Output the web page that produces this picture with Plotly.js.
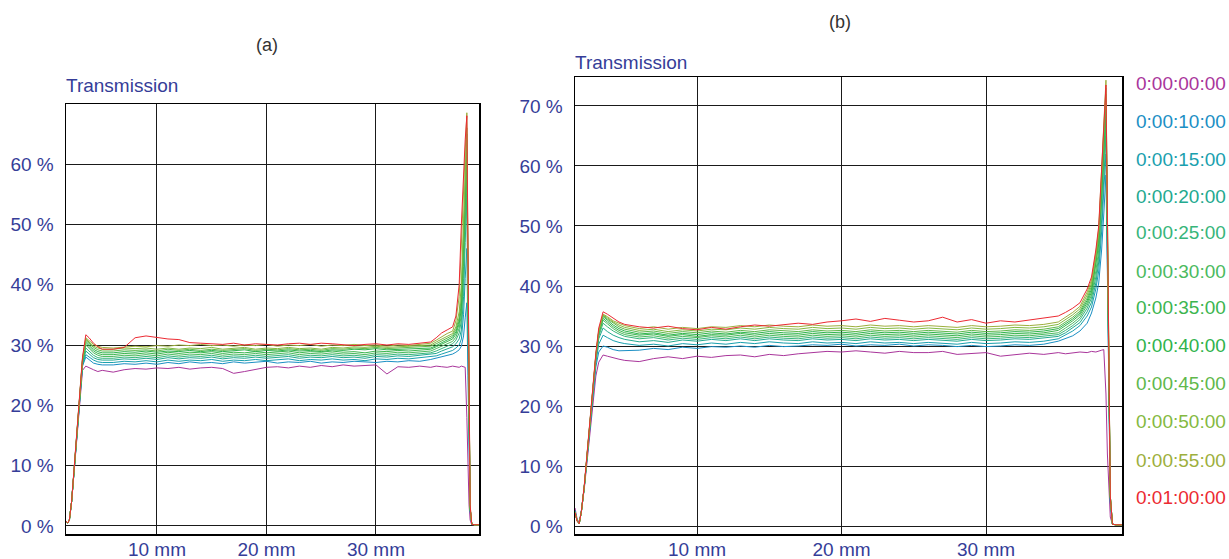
<!DOCTYPE html>
<html>
<head>
<meta charset="utf-8">
<script src="https://cdn.plot.ly/plotly-3.0.1.min.js"></script>
<style>html,body{margin:0;padding:0;background:#fff;}#chart{width:1229px;height:559px;}</style>
</head>
<body>
<div id="chart"></div>
<script>
// Position along the sample (mm)
const positionMm = [1.56,1.7,1.85,2.0,2.2,2.4,2.6,2.8,3.0,3.2,3.5,3.8,4.2,4.6,5,
  6,7,8,9,10,11,12,13,14,15,16,17,18,19,20,21,22,23,24,25,26,27,28,29,30,31,32,33,34,
  35,35.5,36,36.5,37,37.3,37.6,37.8,38.0,38.15,38.3,38.4,38.5,38.6,38.75,39.0,39.4];

const seriesNames = ['0:00:00:00','0:00:10:00','0:00:15:00','0:00:20:00','0:00:25:00','0:00:30:00',
  '0:00:35:00','0:00:40:00','0:00:45:00','0:00:50:00','0:00:55:00','0:01:00:00'];
const seriesColors = ['#a9359b','#1b8fc4','#19a0ae','#23a98f','#37b57a','#4bba5e',
  '#3cb54f','#2fb34c','#5fb84b','#84b941','#9daf3d','#ec2a32'];

const yTickVals = [0,10,20,30,40,50,60,70];
const yTickText = ['0 %','10 %','20 %','30 %','40 %','50 %','60 %','70 %'];
const xTickVals = [10,20,30];
const xTickText = ['10 mm','20 mm','30 mm'];

// ---- Panel (a): transmission (%) ----
const a00 = [1.0,0.7,0.5,1.0,4.0,8.3,12.8,17.5,22.0,25.8,26.5,26.2,25.9,25.6,25.8,
  25.5,25.9,26.1,26.0,26.2,26.1,26.3,26.0,26.2,26.3,26.1,25.3,25.6,26.0,26.3,26.4,26.2,26.5,26.3,26.6,26.4,26.7,26.5,26.6,26.7,25.2,26.4,26.3,26.5,
  26.3,26.5,26.4,26.3,26.5,26.4,26.3,26.5,26.4,26.3,18.0,9.0,3.5,1.0,0.2,0.2,0.2];
const a10 = [1.0,0.7,0.5,1.0,4.0,8.4,13.0,18.0,22.5,26.5,28.0,27.6,27.0,26.8,26.7,
  26.7,26.9,26.8,27.0,26.8,27.1,26.9,27.2,27.0,27.1,26.9,27.2,27.0,27.1,27.3,27.0,27.2,27.1,27.3,27.0,27.2,27.1,27.3,27.2,27.1,27.3,27.2,27.4,27.3,
  27.6,27.8,28.0,28.2,28.5,28.8,29.2,29.8,31.5,34.5,37.0,25.0,9.0,2.5,0.3,0.2,0.2];
const a15 = [1.0,0.7,0.5,1.0,4.0,8.4,13.0,18.0,22.6,26.7,28.4,28.0,27.5,27.2,27.1,
  27.1,27.3,27.2,27.4,27.2,27.5,27.3,27.5,27.4,27.6,27.3,27.5,27.4,27.6,27.4,27.5,27.7,27.4,27.6,27.5,27.7,27.5,27.6,27.4,27.7,27.6,27.8,27.7,27.9,
  28.0,28.2,28.5,28.8,29.1,29.5,30.0,31.0,35.0,41.0,46.0,30.0,11.0,2.5,0.3,0.2,0.2];
const a20 = [1.0,0.7,0.5,1.0,4.0,8.4,13.0,18.1,22.7,26.9,29.0,28.5,27.9,27.6,27.5,
  27.5,27.7,27.6,27.8,27.6,27.9,27.7,27.9,27.8,28.0,27.7,27.9,27.8,28.0,27.8,27.9,28.1,27.8,28.0,27.9,28.1,27.9,28.0,27.8,28.1,28.0,28.2,28.1,28.3,
  28.4,28.6,29.0,29.3,29.7,30.2,31.0,32.5,38.0,47.0,55.0,35.0,12.0,3.0,0.3,0.2,0.2];
const a25 = [1.0,0.7,0.5,1.0,4.0,8.5,13.1,18.2,22.8,27.0,29.5,29.0,28.3,27.9,27.8,
  27.8,28.0,27.9,28.1,27.9,28.2,28.0,28.2,28.1,28.3,28.0,28.2,28.1,28.3,28.1,28.2,28.4,28.1,28.3,28.2,28.4,28.2,28.3,28.1,28.4,28.3,28.5,28.4,28.6,
  28.7,29.0,29.4,29.8,30.2,30.8,32.0,34.0,41.0,50.0,58.0,37.0,13.0,3.0,0.3,0.2,0.2];
const a30 = [1.0,0.7,0.5,1.0,4.0,8.5,13.1,18.2,22.9,27.2,30.0,29.5,28.7,28.3,28.1,
  28.1,28.3,28.2,28.4,28.2,28.5,28.3,28.5,28.4,28.6,28.3,28.5,28.4,28.6,28.4,28.5,28.7,28.4,28.6,28.5,28.7,28.5,28.6,28.4,28.7,28.6,28.8,28.7,28.9,
  29.0,29.4,29.8,30.2,30.6,31.3,32.8,35.0,43.0,52.0,60.0,38.0,13.0,3.0,0.3,0.2,0.2];
const a35 = [1.0,0.7,0.5,1.0,4.0,8.5,13.2,18.3,23.0,27.4,30.3,29.8,29.0,28.6,28.4,
  28.4,28.6,28.5,28.7,28.5,28.8,28.6,28.8,28.7,28.9,28.6,28.8,28.7,28.9,28.7,28.8,29.0,28.7,28.9,28.8,29.0,28.8,28.9,28.7,29.0,28.9,29.1,29.0,29.2,
  29.3,29.7,30.1,30.6,31.0,31.8,33.5,36.0,45.0,54.0,62.0,40.0,14.0,3.0,0.3,0.2,0.2];
const a40 = [1.0,0.7,0.5,1.0,4.0,8.6,13.2,18.3,23.1,27.5,30.6,30.1,29.3,28.9,28.7,
  28.7,28.9,28.8,29.0,28.8,29.0,28.9,29.1,28.9,29.1,28.9,29.0,29.2,28.9,29.1,29.0,29.2,29.0,29.1,28.9,29.2,29.1,29.3,29.2,29.4,29.2,29.3,29.4,29.5,
  29.5,29.9,30.4,30.9,31.3,32.2,34.0,37.0,47.0,56.0,64.0,41.0,14.0,3.0,0.3,0.2,0.2];
const a45 = [1.0,0.7,0.5,1.0,4.0,8.6,13.3,18.4,23.2,27.6,30.8,30.3,29.6,29.2,29.0,
  29.0,29.2,29.1,29.2,29.0,29.3,29.1,29.3,29.1,29.3,29.1,29.2,29.4,29.1,29.3,29.2,29.4,29.2,29.3,29.1,29.4,29.3,29.5,29.4,29.6,29.4,29.5,29.6,29.7,
  29.8,30.2,30.7,31.2,31.6,32.6,34.5,38.0,49.0,57.0,65.0,42.0,15.0,3.0,0.3,0.2,0.2];
const a50 = [1.0,0.7,0.5,1.0,4.0,8.6,13.3,18.4,23.2,27.7,31.0,30.5,29.8,29.5,29.3,
  29.3,29.5,29.4,29.5,29.3,29.5,29.3,29.5,29.4,29.6,29.3,29.5,29.6,29.3,29.5,29.4,29.6,29.4,29.5,29.3,29.6,29.5,29.7,29.6,29.8,29.6,29.7,29.8,29.9,
  30.0,30.5,31.0,31.5,31.9,33.0,35.5,40.0,52.0,59.0,66.0,43.0,15.0,3.0,0.3,0.2,0.2];
const a55 = [1.0,0.7,0.5,1.0,4.0,8.7,13.4,18.5,23.3,27.8,31.2,30.7,30.1,29.8,29.6,
  29.5,29.6,29.8,29.7,29.9,29.8,30.0,29.9,30.1,29.9,30.0,29.8,30.0,29.9,30.1,29.8,30.0,29.9,30.1,29.8,30.0,29.9,30.1,29.9,30.0,29.8,30.0,29.9,30.1,
  30.3,30.8,31.4,31.9,32.3,34.0,38.0,47.0,57.0,63.0,68.5,45.0,16.0,3.5,0.3,0.2,0.2];
const a60 = [1.0,0.7,0.5,1.0,4.1,8.8,13.5,18.6,23.5,28.0,31.7,31.2,30.3,29.7,29.3,
  29.3,29.6,31.2,31.5,31.2,31.0,30.9,30.4,30.3,30.2,30.1,30.3,30.0,30.2,30.1,30.0,30.2,30.3,30.1,30.3,30.2,30.1,29.9,30.1,30.2,30.0,30.2,30.1,30.3,
  30.5,31.2,32.0,32.5,33.0,34.8,40.0,50.0,59.0,64.0,68.0,44.0,16.0,3.5,0.3,0.2,0.2];

// ---- Panel (b): transmission (%) ----
const b00 = [3.0,1.2,0.6,2.6,6.2,11.0,16.5,21.0,25.0,27.3,28.5,28.3,28.0,27.8,27.6,
  27.4,27.9,28.2,27.9,28.3,28.1,28.4,28.5,28.2,28.6,28.4,28.7,28.9,29.1,29.0,29.2,29.0,28.8,29.1,28.9,28.9,29.1,28.6,28.8,28.9,28.3,28.6,28.8,28.6,
  28.9,28.7,28.9,29.0,28.9,29.1,29.0,29.2,29.3,29.4,22.0,12.0,5.0,1.5,0.3,0.2,0.2];
const b10 = [2.6,1.0,0.5,2.5,6.5,11.5,17.5,22.5,26.5,29.0,30.0,29.8,29.4,29.2,29.2,
  29.3,29.6,29.4,29.8,29.6,29.9,29.8,30.0,29.8,30.1,29.9,30.0,30.2,30.1,30.3,30.0,30.2,30.1,30.3,30.0,30.2,30.1,29.9,30.1,29.9,30.0,30.2,30.1,30.3,
  30.8,31.2,31.7,32.5,33.8,35.5,38.0,40.5,46.0,52.0,58.5,42.0,18.0,4.0,0.3,0.2,0.2];
const b15 = [2.5,0.9,0.4,2.5,6.5,11.6,17.6,23.0,27.2,30.3,31.8,31.4,30.9,30.6,30.4,
  30.1,30.3,30.0,30.4,30.2,30.5,30.3,30.6,30.4,30.7,30.5,30.4,30.7,30.5,30.6,30.4,30.7,30.5,30.6,30.4,30.6,30.5,30.3,30.6,30.4,30.5,30.7,30.6,30.8,
  31.2,31.8,32.5,33.4,35.0,36.5,39.5,42.5,49.0,56.0,62.0,44.0,19.0,4.0,0.3,0.2,0.2];
const b20 = [2.4,0.9,0.4,2.4,6.5,11.7,17.7,23.2,27.6,31.2,33.0,32.4,31.8,31.4,31.1,
  30.7,30.9,30.6,31.0,30.8,31.1,30.9,31.2,30.9,31.2,31.0,30.9,31.2,31.0,31.1,30.9,31.2,31.0,31.1,30.9,31.1,31.0,30.8,31.1,30.9,31.0,31.2,31.1,31.3,
  31.6,32.2,33.0,33.9,35.7,37.3,40.5,44.0,51.0,58.0,65.0,46.0,20.0,4.5,0.3,0.2,0.2];
const b25 = [2.4,0.9,0.4,2.4,6.5,11.7,17.8,23.3,27.8,31.6,33.8,33.2,32.5,32.0,31.6,
  31.2,31.4,31.0,31.3,31.1,31.4,31.2,31.5,31.2,31.5,31.3,31.2,31.5,31.3,31.4,31.2,31.5,31.3,31.4,31.2,31.4,31.3,31.1,31.4,31.2,31.3,31.5,31.4,31.6,
  31.9,32.6,33.4,34.4,36.3,38.0,41.5,45.0,53.0,60.0,67.0,47.0,21.0,5.0,0.3,0.2,0.2];
const b30 = [2.4,0.9,0.4,2.4,6.5,11.8,17.8,23.4,28.0,31.9,34.3,33.7,32.9,32.3,31.9,
  31.5,31.7,31.3,31.6,31.4,31.7,31.5,31.8,31.5,31.8,31.6,31.5,31.8,31.6,31.7,31.5,31.8,31.6,31.7,31.5,31.7,31.6,31.4,31.7,31.5,31.6,31.8,31.7,31.9,
  32.2,33.0,33.8,34.8,36.8,38.5,42.5,46.0,54.0,62.0,69.0,48.0,21.0,5.0,0.3,0.2,0.2];
const b35 = [2.3,0.9,0.4,2.4,6.6,11.8,17.9,23.5,28.2,32.1,34.6,34.0,33.2,32.6,32.2,
  31.8,32.0,31.6,31.9,31.6,31.9,31.8,32.1,31.8,32.1,31.9,31.8,32.1,31.9,32.0,31.8,32.1,31.9,32.0,31.8,32.0,31.9,31.7,32.0,31.8,31.9,32.1,32.0,32.2,
  32.6,33.4,34.2,35.2,37.2,39.0,43.5,47.0,55.0,63.0,70.0,49.0,22.0,5.0,0.3,0.2,0.2];
const b40 = [2.3,0.9,0.4,2.4,6.6,11.9,18.0,23.6,28.3,32.3,34.9,34.3,33.5,32.9,32.5,
  32.0,32.2,31.8,32.1,31.9,32.2,32.0,32.3,32.1,32.4,32.2,32.1,32.4,32.2,32.3,32.1,32.4,32.2,32.3,32.1,32.3,32.2,32.0,32.3,32.1,32.2,32.4,32.3,32.5,
  32.9,33.7,34.5,35.5,37.6,39.5,44.0,48.0,56.0,64.0,71.0,50.0,22.0,5.0,0.3,0.2,0.2];
const b45 = [2.3,0.9,0.4,2.4,6.6,11.9,18.0,23.7,28.4,32.4,35.1,34.5,33.8,33.2,32.8,
  32.3,32.5,32.1,32.4,32.2,32.5,32.3,32.6,32.4,32.7,32.5,32.4,32.7,32.5,32.6,32.4,32.7,32.5,32.6,32.4,32.6,32.5,32.3,32.6,32.4,32.5,32.7,32.6,32.8,
  33.2,34.0,34.8,35.8,38.0,40.0,44.5,48.5,57.0,65.0,72.0,51.0,23.0,5.0,0.3,0.2,0.2];
const b50 = [2.3,0.9,0.4,2.4,6.6,12.0,18.1,23.8,28.5,32.5,35.2,34.7,34.0,33.5,33.1,
  32.6,32.8,32.4,32.7,32.5,32.8,32.7,33.0,32.8,33.1,32.9,32.8,33.1,32.9,33.0,32.8,33.1,32.9,33.0,32.8,33.0,32.9,32.7,33.0,32.8,32.9,33.1,33.0,33.2,
  33.6,34.4,35.2,36.2,38.5,40.5,45.0,49.0,58.0,66.0,73.0,52.0,23.0,5.0,0.3,0.2,0.2];
const b55 = [2.3,0.9,0.4,2.4,6.7,12.0,18.1,23.8,28.6,32.6,35.3,34.9,34.2,33.8,33.4,
  32.9,33.2,32.8,33.1,32.9,33.2,33.1,33.4,33.2,33.5,33.3,33.2,33.5,33.3,33.4,33.2,33.5,33.3,33.4,33.2,33.4,33.3,33.1,33.4,33.2,33.3,33.5,33.4,33.6,
  34.0,34.8,35.6,36.6,39.0,41.0,45.5,49.5,59.0,67.0,74.3,53.0,24.0,5.0,0.3,0.2,0.2];
const b60 = [2.2,0.8,0.4,2.5,6.8,12.2,18.3,24.0,28.8,33.0,35.7,35.3,34.6,34.0,33.6,
  33.2,33.0,33.3,32.9,32.7,33.1,32.8,33.2,33.5,33.3,33.6,33.8,33.6,34.0,34.2,34.5,34.1,34.6,34.3,34.0,34.2,34.8,34.0,34.4,33.8,34.2,34.0,34.3,34.6,
  35.0,35.6,36.3,37.2,39.5,41.5,46.0,50.0,60.0,67.0,73.5,52.0,23.0,5.0,0.3,0.2,0.2];

const panelA = [a00,a10,a15,a20,a25,a30,a35,a40,a45,a50,a55,a60];
const panelB = [b00,b10,b15,b20,b25,b30,b35,b40,b45,b50,b55,b60];

const W = 1229, H = 559;
const px = v => v / W;
const py = v => 1 - v / H;

const textBlue = '#353d98';
const fontFam = '"Liberation Sans", Arial, sans-serif';

const traces = [];
panelA.forEach((ys, i) => traces.push({
  x: positionMm, y: ys, type: 'scatter', mode: 'lines', xaxis: 'x', yaxis: 'y',
  line: {color: seriesColors[i], width: 1}, name: seriesNames[i], showlegend: false, hoverinfo: 'skip'
}));
panelB.forEach((ys, i) => traces.push({
  x: positionMm, y: ys, type: 'scatter', mode: 'lines', xaxis: 'x2', yaxis: 'y2',
  line: {color: seriesColors[i], width: 1}, name: seriesNames[i], showlegend: false, hoverinfo: 'skip'
}));

function xAxis(domain, anchor) {
  return {
    domain: domain, anchor: anchor, range: [1.69, 39.41],
    tickmode: 'array', tickvals: xTickVals, ticktext: xTickText,
    ticks: '', ticklabelstandoff: -2,
    showgrid: true, gridcolor: '#1a1a1a', gridwidth: 1, zeroline: false,
    showline: true, mirror: true, linecolor: '#000', linewidth: 1.5,
    tickfont: {family: fontFam, size: 19, color: textBlue}, fixedrange: true
  };
}
function yAxis(domain, anchor, top) {
  return {
    domain: domain, anchor: anchor, range: [-1.33, top],
    tickmode: 'array', tickvals: yTickVals, ticktext: yTickText,
    ticks: 'outside', ticklen: 7, tickcolor: 'rgba(0,0,0,0)',
    showgrid: true, gridcolor: '#1a1a1a', gridwidth: 1,
    zeroline: true, zerolinecolor: '#1a1a1a', zerolinewidth: 1,
    showline: true, mirror: true, linecolor: '#000', linewidth: 1.5,
    tickfont: {family: fontFam, size: 19, color: textBlue}, fixedrange: true
  };
}

const annotations = [
  {text: '(a)', x: px(267), y: py(45), xref: 'paper', yref: 'paper', showarrow: false,
   xanchor: 'center', yanchor: 'middle', font: {family: fontFam, size: 18, color: '#333'}},
  {text: '(b)', x: px(840), y: py(22), xref: 'paper', yref: 'paper', showarrow: false,
   xanchor: 'center', yanchor: 'middle', font: {family: fontFam, size: 18, color: '#333'}},
  {text: 'Transmission', x: px(64), y: py(85), xref: 'paper', yref: 'paper', showarrow: false,
   xanchor: 'left', yanchor: 'middle', font: {family: fontFam, size: 19, color: textBlue}},
  {text: 'Transmission', x: px(573), y: py(62), xref: 'paper', yref: 'paper', showarrow: false,
   xanchor: 'left', yanchor: 'middle', font: {family: fontFam, size: 19, color: textBlue}}
];
const legendY = [84,122,159,196,233,271,308,346,384,422,460,497];
seriesNames.forEach((n, i) => annotations.push({
  text: n, x: px(1134), y: py(legendY[i]), xref: 'paper', yref: 'paper', showarrow: false,
  xanchor: 'left', yanchor: 'middle', font: {family: fontFam, size: 19, color: seriesColors[i]}
}));

const layout = {
  width: W, height: H, margin: {l: 0, r: 0, t: 0, b: 0},
  paper_bgcolor: '#fff', plot_bgcolor: '#fff', showlegend: false,
  xaxis: xAxis([px(66), px(479)], 'y'),
  yaxis: yAxis([py(534), py(104)], 'x', 69.95),
  xaxis2: xAxis([px(575), px(1122)], 'y2'),
  yaxis2: yAxis([py(534), py(77)], 'x2', 74.83),
  annotations: annotations
};
layout.xaxis2.range = [1.557, 39.41];

Plotly.newPlot('chart', traces, layout, {staticPlot: true, displayModeBar: false});
</script>
</body>
</html>
